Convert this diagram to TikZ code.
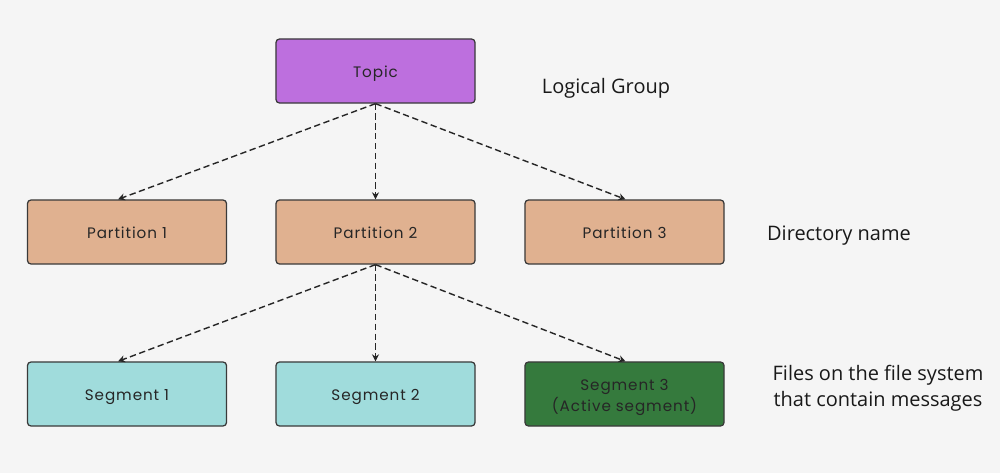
\documentclass[tikz,border=0pt]{standalone}
\usepackage{fontspec}
\setmainfont{Open Sans}
\newfontfamily\boxfont[LetterSpace=6]{Poppins}
\usetikzlibrary{arrows.meta}
\definecolor{bgc}{HTML}{F5F5F5}
\definecolor{topicc}{HTML}{BD6FDE}
\definecolor{partc}{HTML}{E0B190}
\definecolor{segc}{HTML}{A0DCDC}
\definecolor{actc}{HTML}{357A3D}
\definecolor{edgec}{HTML}{3A3A3A}
\begin{document}
\begin{tikzpicture}[x=0.025cm,y=-0.025cm,
  box/.style={draw=edgec,line width=0.9pt,rounded corners=2.5pt,minimum width=4.975cm,minimum height=1.6cm,inner sep=0pt,align=center,font=\boxfont\fontsize{10.8}{14.9}\selectfont,text=black!85},
  onebox/.style={box,text height=1.05em,text depth=0.15em},
  conn/.style={draw=black!85,line width=1pt,dash pattern=on 4.5pt off 2.5pt,-{Stealth[length=5pt,width=5pt]}},
  lbl/.style={font=\fontsize{14.2}{18.4}\selectfont,text=black!90,align=center}]
\fill[bgc] (0,0) rectangle (1000,473);
\useasboundingbox (0,0) rectangle (1000,473);
\node[onebox,fill=topicc] (topic) at (375.5,71) {Topic};
\node[onebox,fill=partc] (p1) at (127,232) {Partition 1};
\node[onebox,fill=partc] (p2) at (375.5,232) {Partition 2};
\node[onebox,fill=partc] (p3) at (624.5,232) {Partition 3};
\node[onebox,fill=segc] (s1) at (127,394) {Segment 1};
\node[onebox,fill=segc] (s2) at (375.5,394) {Segment 2};
\node[box,fill=actc] (s3) at (624.5,394) {\rule{0pt}{1.15em}Segment 3\\(Active segment)};
\node[lbl] (l1) at (606,88) {Logical Group};
\node[lbl] (l2) at (839,236) {Directory name};
\node[lbl] (l3) at (878,388) {Files on the file system\\that contain messages};
\draw[conn] (topic.south) -- ([xshift=-0.225cm]p1.north);
\draw[conn] (topic.south) -- (p2.north);
\draw[conn] (topic.south) -- ([xshift=0.025cm]p3.north);
\draw[conn] (p2.south) -- ([xshift=-0.225cm]s1.north);
\draw[conn] (p2.south) -- (s2.north);
\draw[conn] (p2.south) -- ([xshift=0.025cm]s3.north);
\end{tikzpicture}
\end{document}
